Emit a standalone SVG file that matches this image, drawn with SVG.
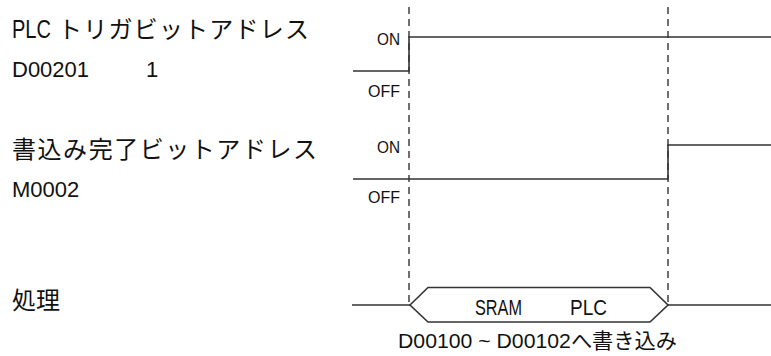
<svg xmlns="http://www.w3.org/2000/svg" width="771" height="356" viewBox="0 0 771 356">
<style>
.t{font-family:"Liberation Sans","Noto Sans CJK JP",sans-serif;fill:#111}
.j{font-family:"Noto Sans CJK JP",sans-serif;fill:#111}
.s{fill:none;stroke:#333;stroke-width:1.6}
.d{fill:none;stroke:#333;stroke-width:1.4;stroke-dasharray:7 5}
</style>
<rect width="771" height="356" fill="#fff"/>
<g id="label-trigger">
<text class="t" x="12" y="38" font-size="25" textLength="39" lengthAdjust="spacingAndGlyphs">PLC</text>
<text class="j" x="58" y="38" font-size="24" textLength="251" lengthAdjust="spacing">トリガビットアドレス</text>
<text class="t" x="12" y="77" font-size="22">D00201</text>
<text class="t" x="146" y="77" font-size="22">1</text>
</g>
<g id="label-complete">
<text class="j" x="12" y="158" font-size="24" textLength="305" lengthAdjust="spacing">書込み完了ビットアドレス</text>
<text class="t" x="12" y="197" font-size="22">M0002</text>
</g>
<g id="label-process">
<text class="j" x="12" y="309" font-size="24">処理</text>
</g>
<g id="levels">
<text class="t" x="377" y="45" font-size="17" textLength="23" lengthAdjust="spacingAndGlyphs">ON</text>
<text class="t" x="368" y="97" font-size="17" textLength="32" lengthAdjust="spacingAndGlyphs">OFF</text>
<text class="t" x="377" y="153" font-size="17" textLength="23" lengthAdjust="spacingAndGlyphs">ON</text>
<text class="t" x="368" y="203" font-size="17" textLength="32" lengthAdjust="spacingAndGlyphs">OFF</text>
</g>
<g id="connectors">
<line class="d" x1="409" y1="7" x2="409" y2="305"/>
<line class="d" x1="668" y1="7" x2="668" y2="305"/>
<polyline class="s" points="353,71 409,71 409,37 771,37"/>
<polyline class="s" points="353,179 668,179 668,145 771,145"/>
<line class="s" x1="352" y1="305" x2="410" y2="305"/>
<line class="s" x1="668" y1="305" x2="771" y2="305"/>
</g>
<g id="process-block">
<polygon class="s" points="410,305 428,287.5 650,287.5 668,305 650,322 428,322"/>
<text class="t" x="475" y="315" font-size="22" textLength="47" lengthAdjust="spacingAndGlyphs">SRAM</text>
<text class="t" x="570" y="315" font-size="22" textLength="37" lengthAdjust="spacingAndGlyphs">PLC</text>
</g>
<g id="note">
<text class="t" x="398" y="348" font-size="21" textLength="279" lengthAdjust="spacingAndGlyphs">D00100 ~ D00102へ書き込み</text>
</g>
</svg>
